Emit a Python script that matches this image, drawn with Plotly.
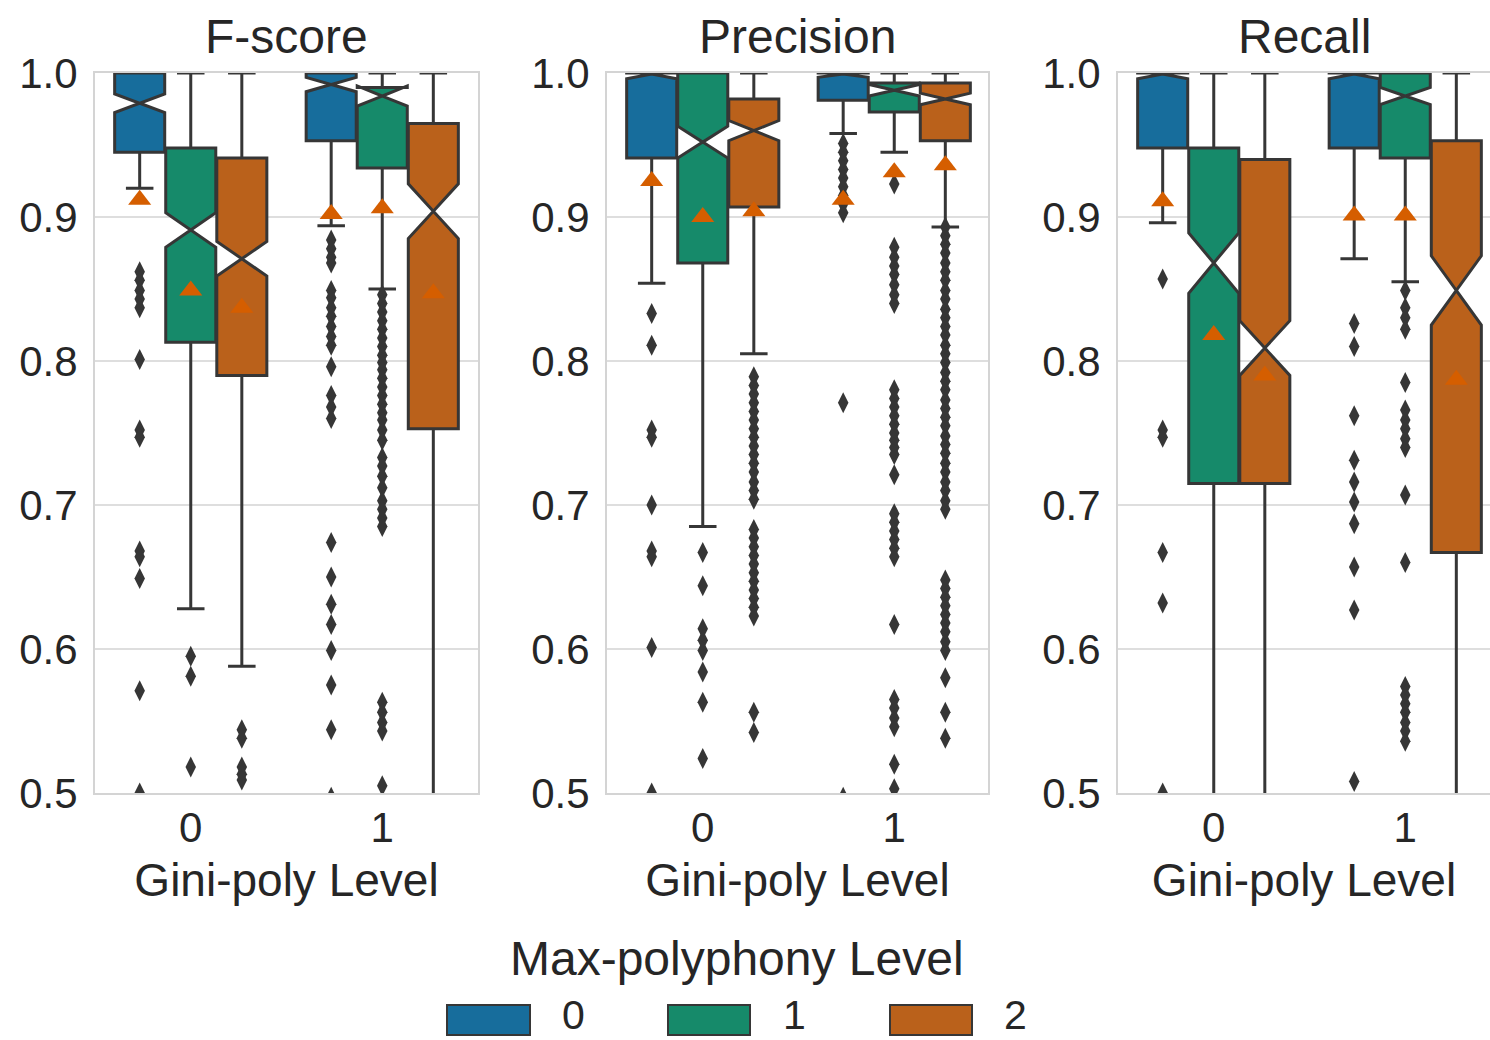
import plotly.graph_objects as go

# ---------------------------------------------------------------------------
# Categories
# ---------------------------------------------------------------------------
metrics = ["F-score", "Precision", "Recall"]
gini_levels = [0, 1]
gini_ticktext = ["0", "1"]
maxpoly_levels = ["0", "1", "2"]
y_ticks = [0.5, 0.6, 0.7, 0.8, 0.9, 1.0]

# Every stat table below: rows = Max-polyphony level (0, 1, 2),
# columns = Gini-poly level (0, 1).

# ---------------------------------------------------------------------------
# F-score
# ---------------------------------------------------------------------------
fscore_q1 = [[0.945, 0.953], [0.813, 0.934], [0.790, 0.753]]
fscore_median = [[0.979, 0.992], [0.891, 0.984], [0.871, 0.904]]
fscore_q3 = [[1.000, 1.000], [0.948, 0.990], [0.941, 0.965]]
fscore_notch = [[0.0065, 0.005], [0.012, 0.007], [0.012, 0.019]]
fscore_low = [[0.920, 0.894], [0.628, 0.850], [0.588, 0.420]]
fscore_high = [[1.0, 1.0], [1.0, 1.0], [1.0, 1.0]]
fscore_mean = [[0.912, 0.902], [0.849, 0.906], [0.837, 0.847]]
fscore_fliers = [
    [
        [0.862, 0.856, 0.849, 0.843, 0.837, 0.801, 0.752, 0.747, 0.668,
         0.664, 0.649, 0.571, 0.500],
        [0.884, 0.878, 0.872, 0.868, 0.849, 0.844, 0.837, 0.831, 0.824,
         0.817, 0.811, 0.796, 0.776, 0.768, 0.760, 0.674, 0.650, 0.631,
         0.617, 0.599, 0.575, 0.544, 0.497],
    ],
    [
        [0.595, 0.581, 0.518],
        [0.846, 0.840, 0.834, 0.828, 0.822, 0.816, 0.810, 0.804, 0.799,
         0.794, 0.788, 0.782, 0.776, 0.770, 0.764, 0.759, 0.752, 0.745,
         0.733, 0.727, 0.720, 0.712, 0.703, 0.697, 0.691, 0.685, 0.563,
         0.556, 0.549, 0.543, 0.505],
    ],
    [
        [0.544, 0.538, 0.518, 0.513, 0.509],
        [],
    ],
]

# ---------------------------------------------------------------------------
# Precision
# ---------------------------------------------------------------------------
precision_q1 = [[0.941, 0.981], [0.868, 0.973], [0.907, 0.953]]
precision_median = [[1.000, 1.000], [0.952, 0.988], [0.960, 0.982]]
precision_q3 = [[1.000, 1.000], [1.000, 0.993], [0.982, 0.993]]
precision_notch = [[0.004, 0.003], [0.011, 0.004], [0.007, 0.004]]
precision_low = [[0.854, 0.958], [0.685, 0.945], [0.805, 0.893]]
precision_high = [[1.0, 1.0], [1.0, 1.0], [1.0, 1.0]]
precision_mean = [[0.925, 0.912], [0.900, 0.931], [0.904, 0.936]]
precision_fliers = [
    [
        [0.833, 0.811, 0.752, 0.747, 0.700, 0.668, 0.664, 0.601, 0.500],
        [0.951, 0.945, 0.939, 0.933, 0.927, 0.921, 0.915, 0.909, 0.903,
         0.771, 0.497],
    ],
    [
        [0.667, 0.644, 0.614, 0.606, 0.599, 0.584, 0.563, 0.524],
        [0.923, 0.879, 0.872, 0.866, 0.860, 0.853, 0.846, 0.840, 0.780,
         0.774, 0.768, 0.762, 0.756, 0.750, 0.745, 0.740, 0.735, 0.721,
         0.694, 0.688, 0.682, 0.676, 0.670, 0.664, 0.617, 0.565, 0.559,
         0.552, 0.546, 0.520, 0.503],
    ],
    [
        [0.789, 0.783, 0.777, 0.771, 0.765, 0.759, 0.753, 0.747, 0.741,
         0.735, 0.729, 0.723, 0.716, 0.710, 0.704, 0.683, 0.677, 0.671,
         0.665, 0.659, 0.653, 0.647, 0.641, 0.635, 0.629, 0.623, 0.556,
         0.542],
        [0.893, 0.887, 0.881, 0.875, 0.868, 0.862, 0.856, 0.849, 0.843,
         0.836, 0.830, 0.824, 0.818, 0.811, 0.805, 0.799, 0.792, 0.786,
         0.780, 0.773, 0.767, 0.761, 0.755, 0.748, 0.742, 0.736, 0.729,
         0.723, 0.716, 0.710, 0.703, 0.697, 0.648, 0.642, 0.636, 0.630,
         0.624, 0.618, 0.612, 0.605, 0.599, 0.580, 0.556, 0.538],
    ],
]

# ---------------------------------------------------------------------------
# Recall
# ---------------------------------------------------------------------------
recall_q1 = [[0.948, 0.948], [0.715, 0.941], [0.715, 0.667]]
recall_median = [[1.000, 1.000], [0.868, 0.984], [0.809, 0.849]]
recall_q3 = [[1.000, 1.000], [0.948, 1.000], [0.940, 0.953]]
recall_notch = [[0.004, 0.004], [0.021, 0.006], [0.019, 0.024]]
recall_low = [[0.896, 0.871], [0.420, 0.855], [0.420, 0.420]]
recall_high = [[1.0, 1.0], [1.0, 1.0], [1.0, 1.0]]
recall_mean = [[0.911, 0.901], [0.818, 0.901], [0.790, 0.787]]
recall_fliers = [
    [
        [0.857, 0.752, 0.747, 0.667, 0.632, 0.500],
        [0.826, 0.810, 0.762, 0.731, 0.716, 0.702, 0.687, 0.657, 0.627,
         0.508],
    ],
    [
        [],
        [0.849, 0.837, 0.830, 0.822, 0.785, 0.766, 0.759, 0.753, 0.746,
         0.740, 0.707, 0.660, 0.574, 0.568, 0.562, 0.556, 0.549, 0.543,
         0.536],
    ],
    [
        [],
        [],
    ],
]

stats = {
    "F-score": dict(q1=fscore_q1, median=fscore_median, q3=fscore_q3,
                    notch=fscore_notch, low=fscore_low, high=fscore_high,
                    mean=fscore_mean, fliers=fscore_fliers),
    "Precision": dict(q1=precision_q1, median=precision_median,
                      q3=precision_q3, notch=precision_notch,
                      low=precision_low, high=precision_high,
                      mean=precision_mean, fliers=precision_fliers),
    "Recall": dict(q1=recall_q1, median=recall_median, q3=recall_q3,
                   notch=recall_notch, low=recall_low, high=recall_high,
                   mean=recall_mean, fliers=recall_fliers),
}

# ---------------------------------------------------------------------------
# Styling
# ---------------------------------------------------------------------------
box_colors = ["#176d9c", "#168a6a", "#ba611b"]
mean_color = "#d55e00"
edge_color = "#363636"
frame_color = "#d4d4d4"
grid_color = "#dedede"
text_color = "#262626"
font_family = "Liberation Sans, Arial, sans-serif"

W, H = 1490, 1040
panel_px = [(95, 478), (607, 988), (1118, 1490)]
plot_top, plot_bottom = 73, 793
unit_px = (478 - 95) / 2.0

hue_slot = 0.8 / len(maxpoly_levels)
dodge = [(i - 1) * hue_slot for i in range(len(maxpoly_levels))]

fig = go.Figure()

for m_i, metric in enumerate(metrics):
    sfx = "" if m_i == 0 else str(m_i + 1)
    st = stats[metric]
    for h in range(len(maxpoly_levels)):
        xs = [g + dodge[h] for g in gini_levels]
        fig.add_trace(go.Box(
            x=xs,
            q1=st["q1"][h], median=st["median"][h], q3=st["q3"][h],
            lowerfence=st["low"][h], upperfence=st["high"][h],
            notchspan=st["notch"][h], notched=True, notchwidth=0.5,
            width=hue_slot * 0.98, whiskerwidth=0.55,
            fillcolor=box_colors[h],
            line=dict(color=edge_color, width=3),
            name=maxpoly_levels[h], showlegend=False,
            xaxis="x" + sfx, yaxis="y" + sfx,
        ))
    for h in range(len(maxpoly_levels)):
        xs = [g + dodge[h] for g in gini_levels]
        fx, fy = [], []
        for g_i in range(len(gini_levels)):
            vals = st["fliers"][h][g_i]
            fx += [xs[g_i]] * len(vals)
            fy += vals
        fig.add_trace(go.Scatter(
            x=fx, y=fy, mode="markers",
            marker=dict(symbol="diamond-tall", size=15, color=edge_color,
                        line=dict(width=0)),
            showlegend=False, xaxis="x" + sfx, yaxis="y" + sfx,
        ))
        fig.add_trace(go.Scatter(
            x=xs, y=st["mean"][h], mode="markers",
            marker=dict(symbol="triangle-up", size=20, color=mean_color,
                        line=dict(width=0)),
            showlegend=False, xaxis="x" + sfx, yaxis="y" + sfx,
        ))

y_dom = [1 - plot_bottom / H, 1 - plot_top / H]
annotations = []
for m_i, metric in enumerate(metrics):
    sfx = "" if m_i == 0 else str(m_i + 1)
    x0, x1 = panel_px[m_i]
    span = (x1 - x0) / unit_px
    fig.layout["xaxis" + sfx] = dict(
        domain=[x0 / W, x1 / W], anchor="y" + sfx,
        range=[-0.5, -0.5 + span], automargin=False,
        tickmode="array", tickvals=gini_levels, ticktext=gini_ticktext,
        showgrid=False, zeroline=False, ticks="",
        showline=True, linecolor=frame_color, linewidth=2, mirror=True,
        tickfont=dict(size=42, color=text_color, family=font_family),
        ticklabelstandoff=-3,
        title=dict(text="Gini-poly Level", standoff=13,
                   font=dict(size=46, color=text_color, family=font_family)),
    )
    fig.layout["yaxis" + sfx] = dict(
        domain=y_dom, anchor="x" + sfx, range=[0.5, 1.0], automargin=False,
        tickmode="array", tickvals=y_ticks, tickformat=".1f",
        showgrid=True, gridcolor=grid_color, gridwidth=2,
        zeroline=False, ticks="",
        showline=True, linecolor=frame_color, linewidth=2,
        mirror=(m_i < len(metrics) - 1),
        tickfont=dict(size=42, color=text_color, family=font_family),
        ticklabelstandoff=7,
    )
    annotations.append(dict(
        text=metric, x=(x0 + x1) / 2 / W, y=1 - 37 / H,
        xref="paper", yref="paper", xanchor="center", yanchor="middle",
        showarrow=False,
        font=dict(size=48, color=text_color, family=font_family),
    ))

# Legend: title, colour patches and level labels
annotations.append(dict(
    text="Max-polyphony Level", x=737 / W, y=1 - 958 / H,
    xref="paper", yref="paper", xanchor="center", yanchor="middle",
    showarrow=False, font=dict(size=48, color=text_color, family=font_family),
))
patch_x = [(447, 530), (668, 750), (890, 972)]
label_x = [573, 795, 1016]
shapes = []
for h, lvl in enumerate(maxpoly_levels):
    px0, px1 = patch_x[h]
    shapes.append(dict(
        type="rect", xref="paper", yref="paper",
        x0=px0 / W, x1=px1 / W, y0=1 - 1035 / H, y1=1 - 1005 / H,
        fillcolor=box_colors[h], line=dict(color=edge_color, width=2),
    ))
    annotations.append(dict(
        text=lvl, x=label_x[h] / W, y=1 - 1015 / H,
        xref="paper", yref="paper", xanchor="center", yanchor="middle",
        showarrow=False,
        font=dict(size=41, color=text_color, family=font_family),
    ))

fig.update_layout(
    width=W, height=H,
    margin=dict(l=0, r=0, t=0, b=0, autoexpand=False),
    paper_bgcolor="white", plot_bgcolor="white",
    boxmode="overlay",
    showlegend=False,
    annotations=annotations,
    shapes=shapes,
    font=dict(family=font_family, color=text_color),
)

fig.write_html("out.html")
